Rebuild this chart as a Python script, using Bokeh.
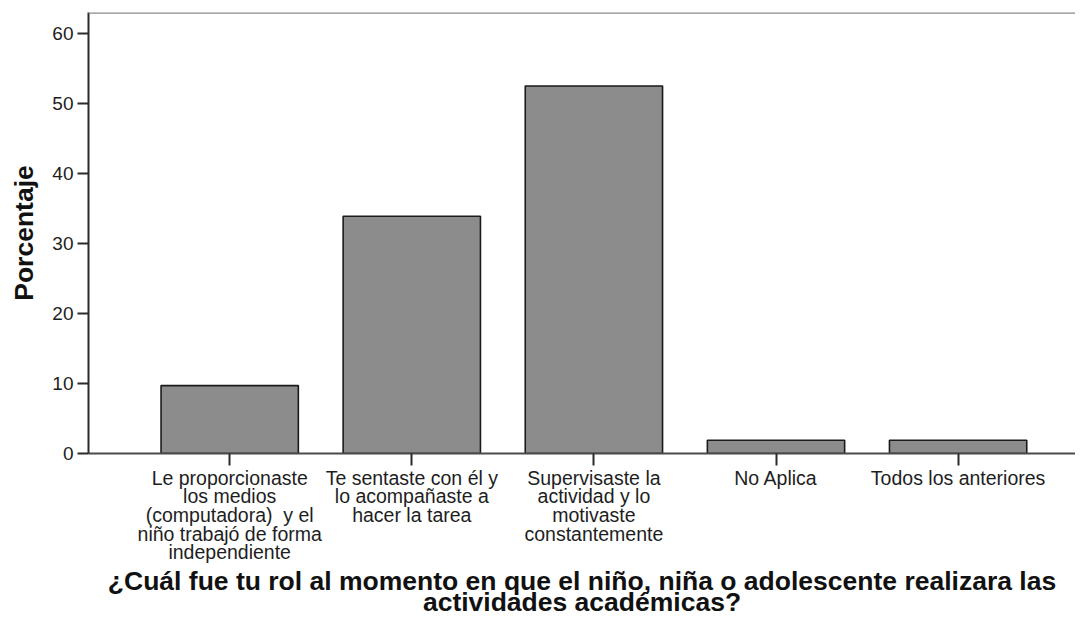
from bokeh.plotting import figure
from bokeh.models import Range1d, FixedTicker, Span
from bokeh.embed import file_html
from bokeh.resources import INLINE

categories = [
    "Le proporcionaste\nlos medios\n(computadora)\u00a0 y el\nniño trabajó de forma\nindependiente",
    "Te sentaste con él y\nlo acompañaste a\nhacer la tarea",
    "Supervisaste la\nactividad y lo\nmotivaste\nconstantemente",
    "No Aplica",
    "Todos los anteriores",
]
porcentaje = [9.7, 33.9, 52.5, 1.9, 1.9]
y_ticks = [0, 10, 20, 30, 40, 50, 60]
y_label = "Porcentaje"
x_title = ("¿Cuál fue tu rol al momento en que el niño, niña o adolescente realizara las\n"
           "actividades académicas?")

x_pos = list(range(1, len(categories) + 1))

FONT = "Liberation Sans"
Y_TOP = 63.0

p = figure(width=1075, height=620, output_backend="svg", toolbar_location=None,
           x_range=Range1d(0.2246, 5.6447), y_range=Range1d(0, Y_TOP),
           min_border_left=88, min_border_right=0, min_border_top=12, min_border_bottom=167)

p.vbar(x=x_pos, top=porcentaje, width=0.754, fill_color="#8c8c8c",
       line_color="#1a1a1a", line_width=1.6)

p.grid.visible = False
p.outline_line_color = None
p.background_fill_color = "white"
p.border_fill_color = "white"

# top border line of the frame
p.add_layout(Span(location=Y_TOP, dimension="width", line_color="#8a8a8a", line_width=2.5))

# y axis
ya = p.yaxis[0]
ya.ticker = FixedTicker(ticks=y_ticks)
ya.axis_line_color = "#2b2b2b"
ya.axis_line_width = 2
ya.major_tick_line_color = "#2b2b2b"
ya.major_tick_line_width = 2
ya.major_tick_out = 11
ya.major_tick_in = 0
ya.minor_tick_line_color = None
ya.major_label_standoff = 4
ya.major_label_text_font = FONT
ya.major_label_text_font_size = "19px"
ya.major_label_text_color = "#1e1e1e"
ya.axis_label = y_label
ya.axis_label_text_font = FONT
ya.axis_label_text_font_size = "26.5px"
ya.axis_label_text_font_style = "bold"
ya.axis_label_text_color = "#111111"
ya.axis_label_standoff = 10

# x axis
xa = p.xaxis[0]
xa.ticker = FixedTicker(ticks=x_pos)
xa.major_label_overrides = {x: c for x, c in zip(x_pos, categories)}
xa.axis_line_color = "#4a4a4a"
xa.axis_line_width = 2
xa.major_tick_line_color = "#2b2b2b"
xa.major_tick_line_width = 2
xa.major_tick_out = 12
xa.major_tick_in = 0
xa.minor_tick_line_color = None
xa.major_label_standoff = 1
xa.major_label_text_font = FONT
xa.major_label_text_font_size = "19.5px"
xa.major_label_text_color = "#1e1e1e"
xa.major_label_text_line_height = 0.85
xa.major_label_orientation = "horizontal"
xa.axis_label = x_title
xa.axis_label_text_font = FONT
xa.axis_label_text_font_size = "26.5px"
xa.axis_label_text_font_style = "bold"
xa.axis_label_text_color = "#111111"
xa.axis_label_text_line_height = 0.7
xa.axis_label_standoff = 0

open("out.html", "w").write(file_html(p, INLINE))
